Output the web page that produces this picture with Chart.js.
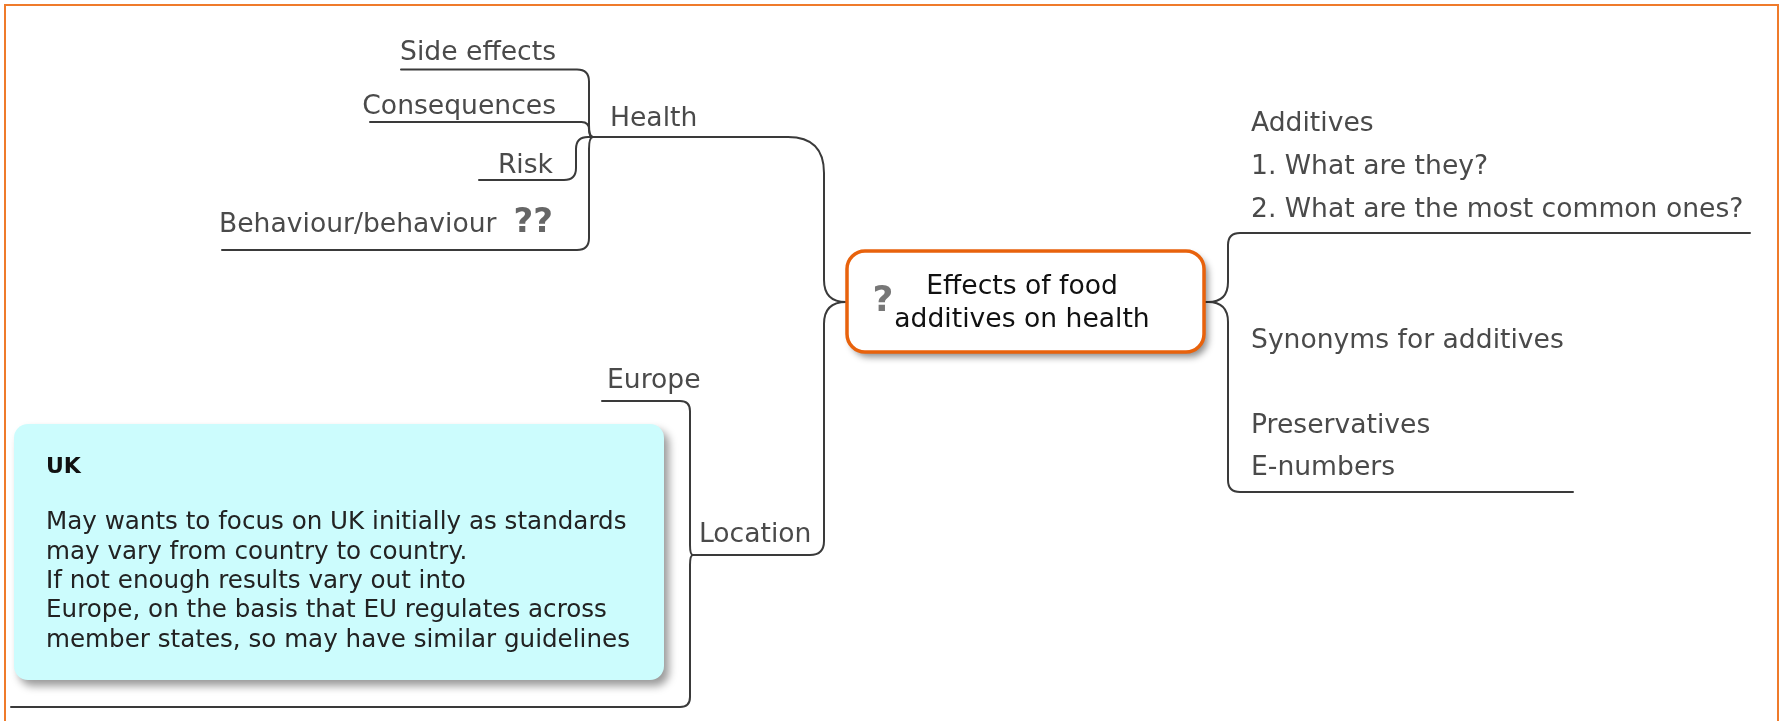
<!DOCTYPE html>
<html lang="en">
<head>
  <meta charset="UTF-8" />
  <title>Effects of food additives on health</title>
  <script src="https://cdn.jsdelivr.net/npm/chart.js"></script>
  <style>
    html, body { margin: 0; padding: 0; background: #fff; overflow: hidden; }
    canvas { display: block; }
  </style>
</head>
<body>
  <canvas id="mindMap" width="1787" height="721"></canvas>

  <script>
    // Mind map content
    const centralTopic = ['Effects of food', 'additives on health'];
    const mainBranches = ['Health', 'Location'];
    const healthLeaves = ['Side effects', 'Consequences', 'Risk', 'Behaviour/behaviour'];
    const locationLeaves = ['Europe', 'UK'];
    const additivesNotes = ['Additives', '1. What are they?', '2. What are the most common ones?'];
    const synonymNotes = ['Synonyms for additives', '', 'Preservatives', 'E-numbers'];
    const ukNote = [
      'May wants to focus on UK initially as standards',
      'may vary from country to country.',
      'If not enough results vary out into',
      'Europe, on the basis that EU regulates across',
      'member states, so may have similar guidelines'
    ];

    // Layout in map units (same as canvas pixels, y downwards)
    const center = { x: 847, y: 251, w: 357, h: 101, left: { x: 847, y: 302 }, right: { x: 1204, y: 302 } };
    const healthJunction = { x: 593, y: 137 };
    const locationJunction = { x: 693, y: 555 };
    const healthLeafPos = [
      { tx: 556, ty: 53, ax: 401, ay: 69.5, vx: 589, align: 'right' },
      { tx: 556, ty: 107, ax: 370, ay: 122, vx: 589, align: 'right' },
      { tx: 553, ty: 166, ax: 479, ay: 180, vx: 576, align: 'right' },
      { tx: 219, ty: 225, ax: 222, ay: 250, vx: 589, align: 'left' }
    ];
    const branchPos = [{ tx: 610, ty: 119 }, { tx: 699, ty: 535 }];
    const europePos = { tx: 607, ty: 381, ax: 602, ay: 401, vx: 690 };
    const ukLinePos = { ax: 11, ay: 707, vx: 690 };
    const ukBox = { x: 14, y: 424, w: 650, h: 256 };
    const additivesPos = { tx: 1251, ty: 124, step: 43, ax: 1750, ay: 233, vx: 1228 };
    const synonymPos = { tx: 1251, ty: 341, step: 42.5, ax: 1573, ay: 492, vx: 1228 };

    const labelFont = '26.6px "DejaVu Sans", Verdana, sans-serif';
    const lineColor = '#3a3a3a';
    const textColor = '#4a4a4a';

    const anchors = [];
    healthLeafPos.forEach(p => anchors.push({ x: p.tx, y: p.ty }));
    branchPos.forEach(p => anchors.push({ x: p.tx, y: p.ty }));

    function roundRect(ctx, x, y, w, h, r) {
      ctx.beginPath();
      ctx.moveTo(x + r, y);
      ctx.arcTo(x + w, y, x + w, y + h, r);
      ctx.arcTo(x + w, y + h, x, y + h, r);
      ctx.arcTo(x, y + h, x, y, r);
      ctx.arcTo(x, y, x + w, y, r);
      ctx.closePath();
    }

    const mindMapPlugin = {
      id: 'mindMap',
      afterDatasetsDraw(chart) {
        const ctx = chart.ctx;
        const X = v => chart.scales.x.getPixelForValue(v);
        const Y = v => chart.scales.y.getPixelForValue(v);

        // connector: horizontal from a, turn at vx, vertical, turn into b
        function elbow(a, b, vx, r1, r2) {
          const dy = b.y - a.y;
          const sy = Math.sign(dy) || 1;
          r1 = Math.min(r1, Math.abs(dy) / 2);
          r2 = Math.min(r2, Math.abs(dy) / 2);
          const s1 = Math.sign(vx - a.x), s2 = Math.sign(b.x - vx);
          ctx.beginPath();
          ctx.moveTo(X(a.x), Y(a.y));
          const startX = Math.abs(vx - a.x) > r1 ? vx - s1 * r1 : a.x;
          ctx.lineTo(X(startX), Y(a.y));
          ctx.quadraticCurveTo(X(vx), Y(a.y), X(vx), Y(a.y + sy * r1));
          ctx.lineTo(X(vx), Y(b.y - sy * r2));
          const endX = Math.abs(b.x - vx) > r2 ? vx + s2 * r2 : b.x;
          ctx.quadraticCurveTo(X(vx), Y(b.y), X(endX), Y(b.y));
          ctx.lineTo(X(b.x), Y(b.y));
          ctx.stroke();
        }

        ctx.save();

        // outer frame
        ctx.strokeStyle = '#ef7b2b';
        ctx.lineWidth = 2;
        ctx.strokeRect(X(5), Y(5), X(1778) - X(5), Y(760) - Y(5));

        // connectors
        ctx.strokeStyle = lineColor;
        ctx.lineWidth = 2;
        ctx.lineCap = 'round';
        healthLeafPos.forEach(p => elbow({ x: p.ax, y: p.ay }, healthJunction, p.vx, 12, 12));
        elbow(healthJunction, center.left, 824, 36, 22);
        elbow(center.left, locationJunction, 824, 22, 14);
        elbow({ x: europePos.ax, y: europePos.ay }, locationJunction, europePos.vx, 10, 10);
        elbow({ x: ukLinePos.ax, y: ukLinePos.ay }, locationJunction, ukLinePos.vx, 10, 10);
        elbow({ x: additivesPos.ax, y: additivesPos.ay }, center.right, additivesPos.vx, 12, 20);
        elbow({ x: synonymPos.ax, y: synonymPos.ay }, center.right, synonymPos.vx, 12, 20);

        // central topic box
        ctx.save();
        ctx.shadowColor = 'rgba(0,0,0,0.45)';
        ctx.shadowBlur = 7;
        ctx.shadowOffsetX = 4;
        ctx.shadowOffsetY = 5;
        roundRect(ctx, X(center.x), Y(center.y), X(center.x + center.w) - X(center.x), Y(center.y + center.h) - Y(center.y), 18);
        ctx.fillStyle = '#fff';
        ctx.fill();
        ctx.restore();
        roundRect(ctx, X(center.x), Y(center.y), X(center.x + center.w) - X(center.x), Y(center.y + center.h) - Y(center.y), 18);
        ctx.strokeStyle = '#e8620c';
        ctx.lineWidth = 3.5;
        ctx.stroke();

        // UK note box
        ctx.save();
        ctx.shadowColor = 'rgba(0,0,0,0.4)';
        ctx.shadowBlur = 9;
        ctx.shadowOffsetX = 5;
        ctx.shadowOffsetY = 6;
        roundRect(ctx, X(ukBox.x), Y(ukBox.y), X(ukBox.x + ukBox.w) - X(ukBox.x), Y(ukBox.y + ukBox.h) - Y(ukBox.y), 14);
        ctx.fillStyle = '#ccfcfd';
        ctx.fill();
        ctx.restore();

        // texts
        ctx.textBaseline = 'middle';
        ctx.font = labelFont;
        ctx.fillStyle = textColor;
        healthLeaves.forEach((label, i) => {
          const p = healthLeafPos[i];
          ctx.textAlign = p.align;
          ctx.fillText(label, X(p.tx), Y(p.ty));
        });
        ctx.textAlign = 'right';
        ctx.font = 'bold 34px "DejaVu Sans", Verdana, sans-serif';
        ctx.fillStyle = '#666';
        ctx.fillText('??', X(553), Y(223));

        ctx.font = labelFont;
        ctx.fillStyle = textColor;
        ctx.textAlign = 'left';
        mainBranches.forEach((label, i) => ctx.fillText(label, X(branchPos[i].tx), Y(branchPos[i].ty)));
        ctx.fillText(locationLeaves[0], X(europePos.tx), Y(europePos.ty));
        additivesNotes.forEach((t, i) => ctx.fillText(t, X(additivesPos.tx), Y(additivesPos.ty + i * additivesPos.step)));
        synonymNotes.forEach((t, i) => ctx.fillText(t, X(synonymPos.tx), Y(synonymPos.ty + i * synonymPos.step)));

        // central topic text
        ctx.fillStyle = '#777';
        ctx.font = 'bold 36px "DejaVu Sans", Verdana, sans-serif';
        ctx.textAlign = 'center';
        ctx.fillText('?', X(883), Y(302));
        ctx.fillStyle = '#111';
        ctx.font = labelFont;
        centralTopic.forEach((t, i) => ctx.fillText(t, X(1022), Y(287 + i * 33)));

        // UK note text
        ctx.textAlign = 'left';
        ctx.fillStyle = '#111';
        ctx.font = 'bold 22px "DejaVu Sans", Verdana, sans-serif';
        ctx.fillText(locationLeaves[1], X(46), Y(467));
        ctx.font = '24.6px "DejaVu Sans", Verdana, sans-serif';
        ctx.fillStyle = '#222';
        ukNote.forEach((t, i) => ctx.fillText(t, X(46), Y(523 + i * 29.3)));

        ctx.restore();
      }
    };

    new Chart(document.getElementById('mindMap'), {
      type: 'scatter',
      data: {
        datasets: [{
          data: anchors,
          pointRadius: 0,
          pointHoverRadius: 0
        }]
      },
      options: {
        responsive: false,
        animation: false,
        events: [],
        layout: { padding: 0 },
        plugins: { legend: { display: false }, tooltip: { enabled: false } },
        scales: {
          x: { type: 'linear', min: 0, max: 1787, display: false },
          y: { type: 'linear', min: 0, max: 721, reverse: true, display: false }
        }
      },
      plugins: [mindMapPlugin]
    });
  </script>
</body>
</html>
